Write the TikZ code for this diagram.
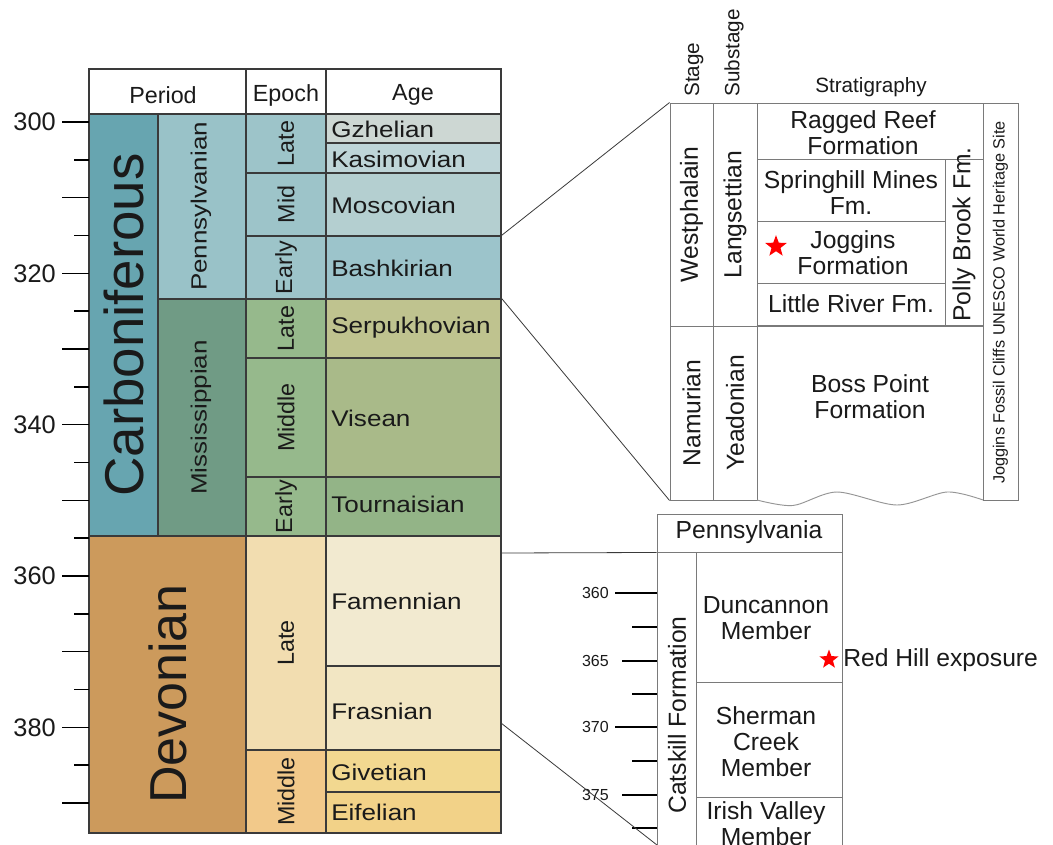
\documentclass[tikz,border=0pt]{standalone}
\usepackage{fontspec}
\setmainfont{Liberation Sans}
\newfontfamily\widefont[FakeStretch=1.15]{Liberation Sans}
\newfontfamily\widerfont[FakeStretch=1.18]{Liberation Sans}
\usetikzlibrary{fit,shapes.geometric}
\definecolor{lc}{HTML}{3A3A3A}
\definecolor{gc}{HTML}{7A7A7A}
\definecolor{tc}{HTML}{1A1A1A}
\definecolor{carbC}{HTML}{67A5B0}
\definecolor{pennC}{HTML}{99C2C8}
\definecolor{missC}{HTML}{709B85}
\definecolor{pennE}{HTML}{9DC4C9}
\definecolor{missE}{HTML}{96B98C}
\definecolor{gzhC}{HTML}{CDD7D3}
\definecolor{kasC}{HTML}{BED5D8}
\definecolor{mosC}{HTML}{B4CFD0}
\definecolor{basC}{HTML}{9CC4CB}
\definecolor{serC}{HTML}{BFC38F}
\definecolor{visC}{HTML}{A9BA89}
\definecolor{touC}{HTML}{93B487}
\definecolor{devC}{HTML}{CC9A5C}
\definecolor{ldevC}{HTML}{F2DDB0}
\definecolor{mdevC}{HTML}{F2C98A}
\definecolor{famC}{HTML}{F2EAD0}
\definecolor{fraC}{HTML}{F2E6C3}
\definecolor{givC}{HTML}{F2D890}
\definecolor{eifC}{HTML}{F2D288}
\begin{document}
\begin{tikzpicture}[x=0.75pt,y=-0.75pt,
  cell/.style={draw=lc, line width=0.9pt, inner sep=0pt},
  gcell/.style={draw=gc, line width=0.7pt, inner sep=0pt},
  txt/.style={inner sep=0pt, text=tc},
  hdr/.style={txt, font=\fontsize{17.5}{20}\selectfont},
  ep/.style={txt, rotate=90, font=\fontsize{17.5}{20}\selectfont},
  age/.style={txt, anchor=west, font=\widefont\fontsize{17}{20}\selectfont},
  sub/.style={txt, rotate=90, font=\widerfont\fontsize{16.5}{20}\selectfont},
  big/.style={txt, rotate=90},
  rt/.style={txt, align=center, font=\fontsize{18.5}{19.5}\selectfont},
  rtr/.style={txt, rotate=90, font=\fontsize{18.5}{19.5}\selectfont},
  rh/.style={txt, font=\fontsize{15.5}{18}\selectfont},
  tick/.style={line width=1.1pt, black},
  conn/.style={draw=lc, line width=0.6pt},
  redstar/.style={star, star points=5, star point ratio=2.4, fill=red, draw=none, inner sep=0pt}
]
\useasboundingbox (0,0) rectangle (1053,844);
\fill[white] (0,0) rectangle (1053,844);

% ---------- header ----------
\node[cell, fit={(89,69) (246,114)}] (hPer) {};
\node[cell, fit={(246,69) (326,114)}] (hEp) {};
\node[cell, fit={(326,69) (501,114)}] (hAge) {};
\node[hdr] (tPer) at (163,95) {Period};
\node[hdr] (tEp) at (286,95) {Epoch};
\node[hdr] (tAge) at (413,95) {Age};

% ---------- periods ----------
\node[cell, fill=carbC, fit={(89,114) (158,536)}] (carb) {};
\node[cell, fill=pennC, fit={(158,114) (246,299)}] (penn) {};
\node[cell, fill=missC, fit={(158,299) (246,536)}] (miss) {};
\node[cell, fill=devC, fit={(89,536) (246,833)}] (dev) {};
\node[big, font=\fontsize{41}{41}\selectfont] (tCarb) at (124,325) {Carboniferous};
\node[sub] (tPenn) at (201,206.5) {Pennsylvanian};
\node[sub] (tMiss) at (201,417.5) {Mississippian};
\node[big, font=\fontsize{39}{39}\selectfont] (tDev) at (168,694) {Devonian};

% ---------- epochs ----------
\node[cell, fill=pennE, fit={(246,114) (326,173)}] (e1) {};
\node[cell, fill=pennE, fit={(246,173) (326,236)}] (e2) {};
\node[cell, fill=pennE, fit={(246,236) (326,299)}] (e3) {};
\node[cell, fill=missE, fit={(246,299) (326,358)}] (e4) {};
\node[cell, fill=missE, fit={(246,358) (326,477)}] (e5) {};
\node[cell, fill=missE, fit={(246,477) (326,536)}] (e6) {};
\node[cell, fill=ldevC, fit={(246,536) (326,750)}] (e7) {};
\node[cell, fill=mdevC, fit={(246,750) (326,833)}] (e8) {};
\node[ep] (te1) at (e1.center) {Late};
\node[ep] (te2) at (e2.center) {Mid};
\node[ep] (te3) at (e3.center) {Early};
\node[ep] (te4) at (e4.center) {Late};
\node[ep] (te5) at (e5.center) {Middle};
\node[ep] (te6) at (e6.center) {Early};
\node[ep] (te7) at (e7.center) {Late};
\node[ep] (te8) at (e8.center) {Middle};

% ---------- ages ----------
\node[cell, fill=gzhC, fit={(326,114) (501,143)}] (gzh) {};
\node[cell, fill=kasC, fit={(326,143) (501,173)}] (kas) {};
\node[cell, fill=mosC, fit={(326,173) (501,236)}] (mos) {};
\node[cell, fill=basC, fit={(326,236) (501,299)}] (bas) {};
\node[cell, fill=serC, fit={(326,299) (501,358)}] (ser) {};
\node[cell, fill=visC, fit={(326,358) (501,477)}] (vis) {};
\node[cell, fill=touC, fit={(326,477) (501,536)}] (tou) {};
\node[cell, fill=famC, fit={(326,536) (501,666)}] (fam) {};
\node[cell, fill=fraC, fit={(326,666) (501,750)}] (fra) {};
\node[cell, fill=givC, fit={(326,750) (501,792)}] (giv) {};
\node[cell, fill=eifC, fit={(326,792) (501,833)}] (eif) {};
\node[age] (tgzh) at (331,129) {Gzhelian};
\node[age] (tkas) at (331,159) {Kasimovian};
\node[age] (tmos) at (331,205) {Moscovian};
\node[age] (tbas) at (331,268) {Bashkirian};
\node[age] (tser) at (331,328) {Serpukhovian};
\node[age] (tvis) at (331,418) {Visean};
\node[age] (ttou) at (331,504) {Tournaisian};
\node[age] (tfam) at (331,601) {Famennian};
\node[age] (tfra) at (331,711) {Frasnian};
\node[age] (tgiv) at (331,772) {Givetian};
\node[age] (teif) at (331,812) {Eifelian};

% ---------- left axis ----------
\foreach \m in {300,310,...,390} {\draw[tick] (62,{122+(\m-300)*7.567}) -- (89,{122+(\m-300)*7.567});}
\foreach \m in {305,315,...,385} {\draw[tick] (74,{122+(\m-300)*7.567}) -- (89,{122+(\m-300)*7.567});}
\foreach \m in {300,320,...,380} {\node[txt, anchor=east, font=\fontsize{19}{20}\selectfont] at (56,{122+(\m-300)*7.567}) {\m};}

% ---------- Joggins panel ----------
\node[rh, rotate=90, anchor=west] (hStage) at (694,97) {Stage};
\node[rh, rotate=90, anchor=west] (hSub) at (734,97) {Substage};
\node[rh] (hStrat) at (871,87) {Stratigraphy};

\node[gcell, fit={(670,103) (713,326)}] (stW) {};
\node[gcell, fit={(670,326) (713,500)}] (stN) {};
\node[gcell, fit={(713,103) (757,326)}] (subL) {};
\node[gcell, fit={(713,326) (757,500)}] (subY) {};
\node[gcell, fit={(757,103) (983,159)}] (rr) {};
\node[gcell, fit={(757,159) (945,221)}] (sm) {};
\node[gcell, fit={(757,221) (945,283)}] (jg) {};
\node[gcell, fit={(757,283) (945,326)}] (lr) {};
\node[gcell, fit={(945,159) (983,326)}] (pb) {};
\node[inner sep=0pt, fit={(757,326) (983,500)}] (bp) {};
\node[gcell, fit={(983,103) (1018,500)}] (un) {};
\draw[gc, line width=0.7pt] (bp.north west) -- (bp.north east);
\draw[gc!80, line width=0.7pt] plot[smooth] coordinates {(757,500) (793,505.5) (837,492) (897,505) (947,492) (983,500)};

\node[rtr] (tW) at (691.5,214.5) {Westphalain};
\node[rtr] (tL) at (735,214.5) {Langsettian};
\node[rtr] (tN) at (691.5,413) {Namurian};
\node[rtr] (tY) at (735,413) {Yeadonian};
\node[rt] (trr) at (863,133) {Ragged Reef\\Formation};
\node[rt] (tsm) at (851,193) {Springhill Mines\\Fm.};
\node[rt] (tjg) at (853,253) {Joggins\\Formation};
\node[redstar, minimum size=17pt] (jstar) at (776,246.5) {};
\node[rt] (tlr) at (851,304) {Little River Fm.};
\node[rtr] (tpb) at (964,234.5) {Polly Brook Fm.};
\node[rt] (tbp) at (870,397) {Boss Point\\Formation};
\node[txt, rotate=90, font=\fontsize{12.2}{14}\selectfont] (tun) at (1000.5,302.5) {Joggins Fossil Cliffs UNESCO World Heritage Site};

% ---------- Pennsylvania panel ----------
\node[gcell, fit={(657,514) (842,552)}] (pa) {};
\node[gcell, fit={(657,552) (696,870)}] (cat) {};
\node[gcell, fit={(696,552) (842,682)}] (dun) {};
\node[gcell, fit={(696,682) (842,797)}] (sher) {};
\node[gcell, fit={(696,797) (842,870)}] (iri) {};
\node[rt] (tpa) at (749,532) {Pennsylvania};
\node[rtr] (tcat) at (677,715) {Catskill Formation};
\node[rt] (tdun) at (766,618) {Duncannon\\Member};
\node[rt] (tsher) at (766,742) {Sherman\\Creek\\Member};
\node[rt, anchor=north] (tiri) at (766,801) {Irish Valley\\Member};
\node[redstar, minimum size=15pt] (rstar) at (829,659.5) {};
\node[rt, anchor=west] (trh) at (843,660) {Red Hill exposure};

\draw[tick] (615,593) -- (657,593);
\draw[tick] (632,627) -- (657,627);
\draw[tick] (622,661) -- (657,661);
\draw[tick] (632,694) -- (657,694);
\draw[tick] (615,727) -- (657,727);
\draw[tick] (632,761) -- (657,761);
\draw[tick] (622,795) -- (657,795);
\draw[tick] (632,828) -- (657,828);
\foreach \v/\y in {360/593,365/661,370/727,375/795} {\node[txt, anchor=east, font=\fontsize{12}{14}\selectfont] at (609,\y) {\v};}

% ---------- connectors ----------
\coordinate (famR) at (501,553);
\coordinate (fraR) at (501,723);
\coordinate (catLow) at (657,845);
\draw[conn] (bas.north east) -- (stW.north west);
\draw[conn] (ser.north east) -- (stN.south west);
\draw[conn] (famR) -- (pa.south west);
\draw[conn] (fraR) -- (catLow);
\end{tikzpicture}
\end{document}
